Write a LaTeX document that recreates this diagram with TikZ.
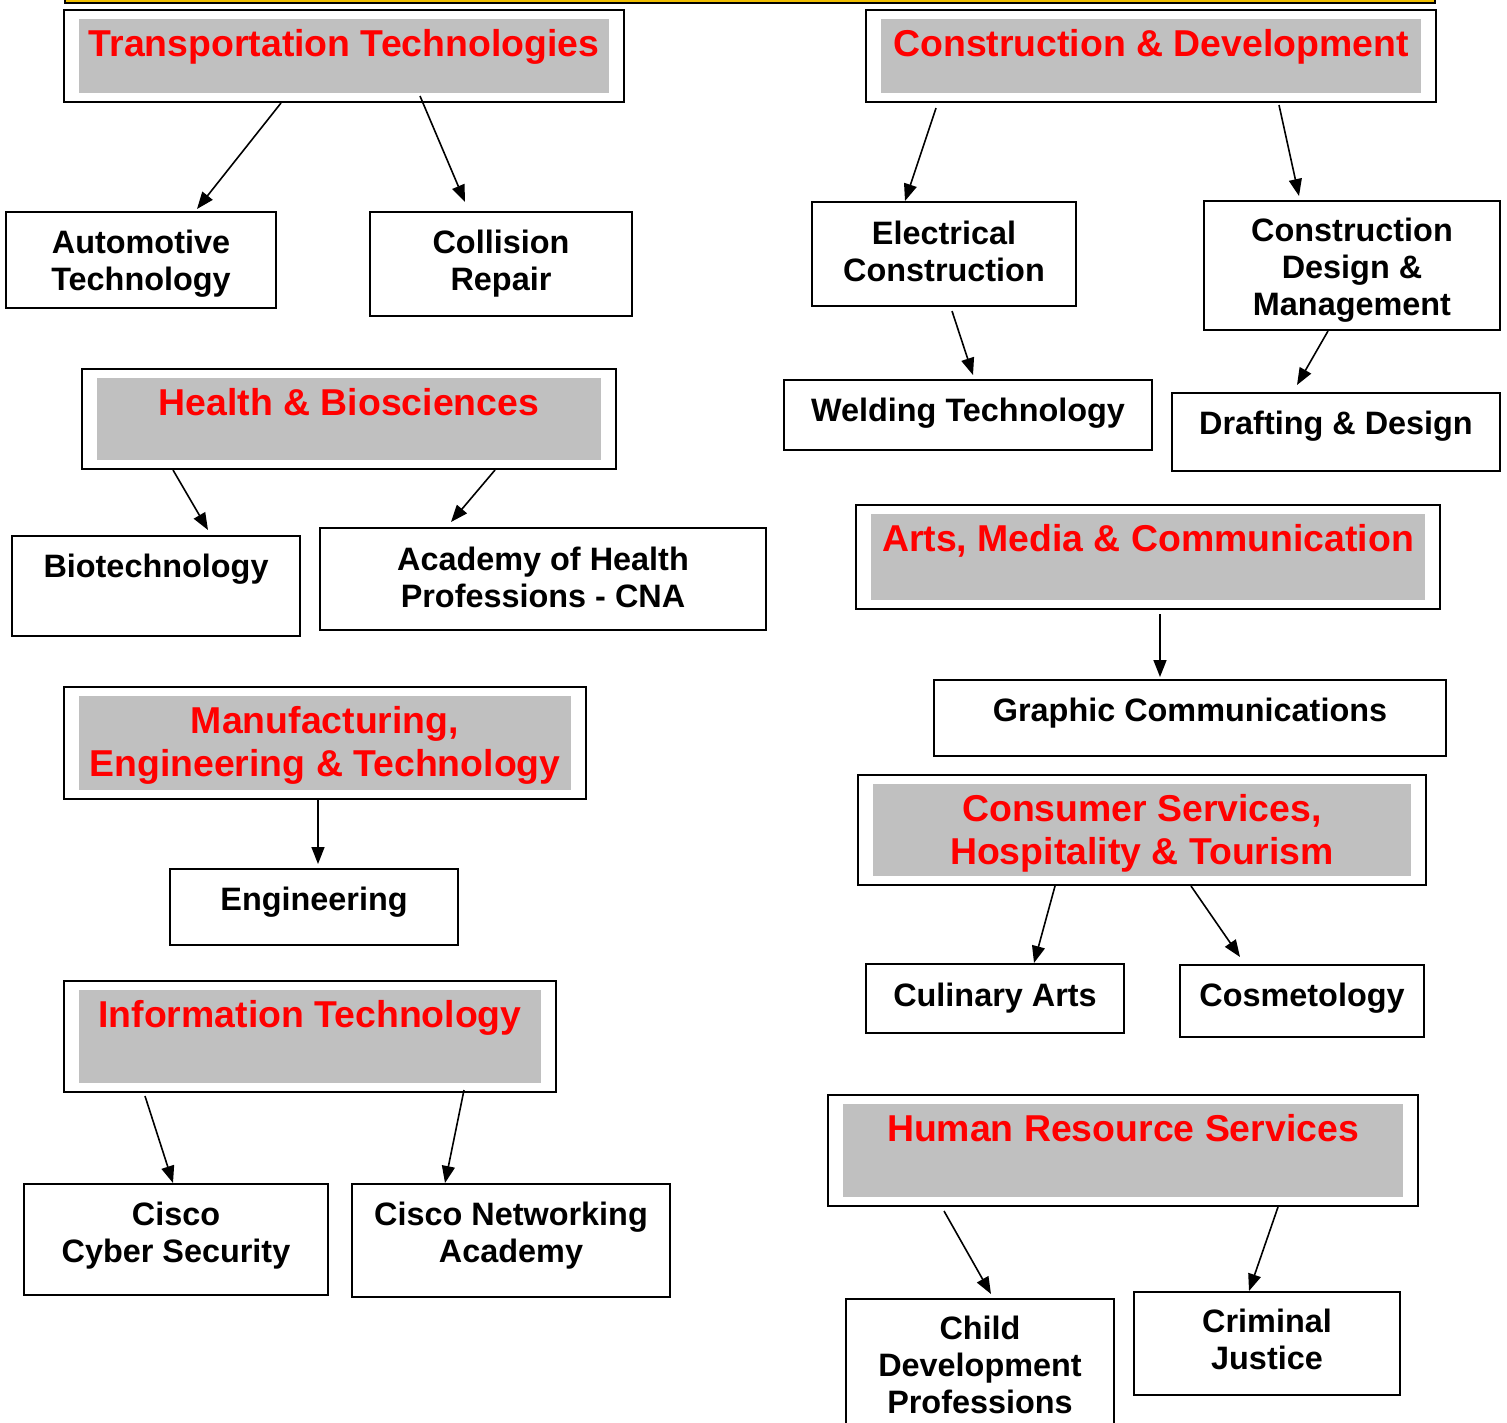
\documentclass[tikz,border=0pt]{standalone}
\usepackage{fontspec}
\setmainfont{Liberation Sans}
\usetikzlibrary{arrows.meta}
\definecolor{silver}{RGB}{192,192,192}
\definecolor{gold}{RGB}{240,190,0}
\def\bodyfont{\fontsize{32.4}{37}\selectfont\bfseries}
\def\headfont{\fontsize{37.4}{43}\selectfont\bfseries}
\tikzset{
  catframe/.style={draw, line width=2pt, fill=white, inner sep=0pt},
  course/.style={draw, line width=2pt, fill=white, inner sep=0pt, align=center, font=\bodyfont},
  headtext/.style={inner sep=0pt, align=center, text=red, font=\headfont},
  feed/.style={line width=1.6pt, -{Triangle[length=17pt,width=13pt]}},
}
% name, centre, width, height, title
\newcommand\cluster[5]{%
  \node[catframe, minimum width=#3, minimum height=#4] (#1) at (#2) {};
  \fill[silver] ([shift={(16pt,-10pt)}]#1.north west) rectangle ([shift={(-16pt,10pt)}]#1.south east);
  \node[headtext, anchor=north] (#1-t) at ([yshift=-20pt]#1.north) {#5};}

\begin{document}
\begin{tikzpicture}[x=1pt, y=-1pt]
                \useasboundingbox (0,0) rectangle (1507,1422);
                \draw[fill=gold, line width=1.5pt] (65,-10) rectangle (1435,3);

                % left column
                \cluster{trans}{344,56}{560}{92}{Transportation Technologies}
                \node[course, minimum width=270, minimum height=96, text height=68pt] (auto) at (141,260) {Automotive\\Technology};
                \node[course, minimum width=262, minimum height=104] (coll) at (501,264) {Collision\\Repair};

                \cluster{health}{349,419}{534}{100}{Health \& Biosciences}
                \node[course, minimum width=288, minimum height=100, text depth=41pt] (bio) at (156,586) {Biotechnology};
                \node[course, minimum width=446, minimum height=102, text depth=4pt] (ahp) at (543,579) {Academy of Health\\Professions - CNA};

                \cluster{manuf}{325,743}{522}{112}{Manufacturing,\\Engineering \& Technology}
                \node[course, minimum width=288, minimum height=76, text depth=17pt] (eng) at (314,907) {Engineering};

                \cluster{info}{310,1036.5}{492}{111}{Information Technology}
                \node[course, minimum width=304, minimum height=111, text depth=15pt] (ccs) at (176,1239.5) {Cisco\\Cyber Security};
                \node[course, minimum width=318, minimum height=113, text depth=17pt] (cna) at (511,1240.5) {Cisco Networking\\Academy};

                % right column
                \cluster{constr}{1151,56}{570}{92}{Construction \& Development}
                \node[course, minimum width=264, minimum height=104, text depth=6pt]    (elec)  at (944,254)    {Electrical\\Construction};
                \node[course, minimum width=296, minimum height=129, text height=107pt] (cdm)   at (1352,265.5) {Construction\\Design \&\\Management};
                \node[course, minimum width=368, minimum height=70, text depth=11pt]    (weld)  at (968,415)    {Welding Technology};
                \node[course, minimum width=328, minimum height=78, text depth=19pt]    (draft) at (1336,432)   {Drafting \& Design};

                \cluster{arts}{1148,557}{584}{104}{Arts, Media \& Communication}
                \node[course, minimum width=512, minimum height=76, text depth=17pt] (graph) at (1190,718) {Graphic Communications};

                \cluster{cons}{1142,830}{568}{110}{Consumer Services,\\Hospitality \& Tourism}
                \node[course, minimum width=258, minimum height=69] (cul) at (995,998.5) {Culinary Arts};
                \node[course, minimum width=244, minimum height=72, text depth=13pt] (cos) at (1302,1001) {Cosmetology};

                \cluster{hr}{1123,1150.5}{590}{111}{Human Resource Services}
                \node[course, minimum width=268, minimum height=141, text depth=9pt] (child) at (980,1369.5) {Child\\Development\\Professions};
                \node[course, minimum width=266, minimum height=103, text depth=8pt] (crim)  at (1267,1343.5) {Criminal\\Justice};

                % arrows
                \draw[feed] ([xshift=-63pt]trans.south) -- ([xshift=56pt,yshift=2pt]auto.north);
                \draw[feed] ([xshift=76pt,yshift=7pt]trans.south) -- ([xshift=-36pt,yshift=9pt]coll.north);
                \draw[feed] ([xshift=-176pt]health.south) -- ([xshift=52pt,yshift=5pt]bio.north);
                \draw[feed] ([xshift=146pt]health.south) -- ([xshift=-92pt,yshift=5pt]ahp.north);
                \draw[feed] ([xshift=-7pt]manuf.south) -- ([xshift=4pt,yshift=4pt]eng.north);
                \draw[feed] ([xshift=-165pt,yshift=-3pt]info.south) -- ([xshift=-3pt]ccs.north);
                \draw[feed] ([xshift=154pt,yshift=3pt]info.south) -- ([xshift=-66pt]cna.north);
                \draw[feed] ([xshift=-215pt,yshift=-5pt]constr.south) -- ([xshift=-39pt]elec.north);
                \draw[feed] ([xshift=128pt,yshift=-2pt]constr.south) -- ([xshift=-53pt,yshift=4pt]cdm.north);
                \draw[feed] ([xshift=8pt,yshift=-4pt]elec.south) -- ([xshift=5pt,yshift=4pt]weld.north);
                \draw[feed] ([xshift=-24pt]cdm.south) -- ([xshift=-39pt,yshift=7pt]draft.north);
                \draw[feed] ([xshift=12pt,yshift=-4pt]arts.south) -- ([xshift=-30pt,yshift=2pt]graph.north);
                \draw[feed] ([xshift=-87pt]cons.south) -- ([xshift=39pt]cul.north);
                \draw[feed] ([xshift=49pt]cons.south) -- ([xshift=-62pt,yshift=7pt]cos.north);
                \draw[feed] ([xshift=-179pt,yshift=-4pt]hr.south) -- ([xshift=11pt,yshift=4pt]child.north);
                \draw[feed] ([xshift=155pt]hr.south) -- ([xshift=-18pt]crim.north);
\end{tikzpicture}
\end{document}
